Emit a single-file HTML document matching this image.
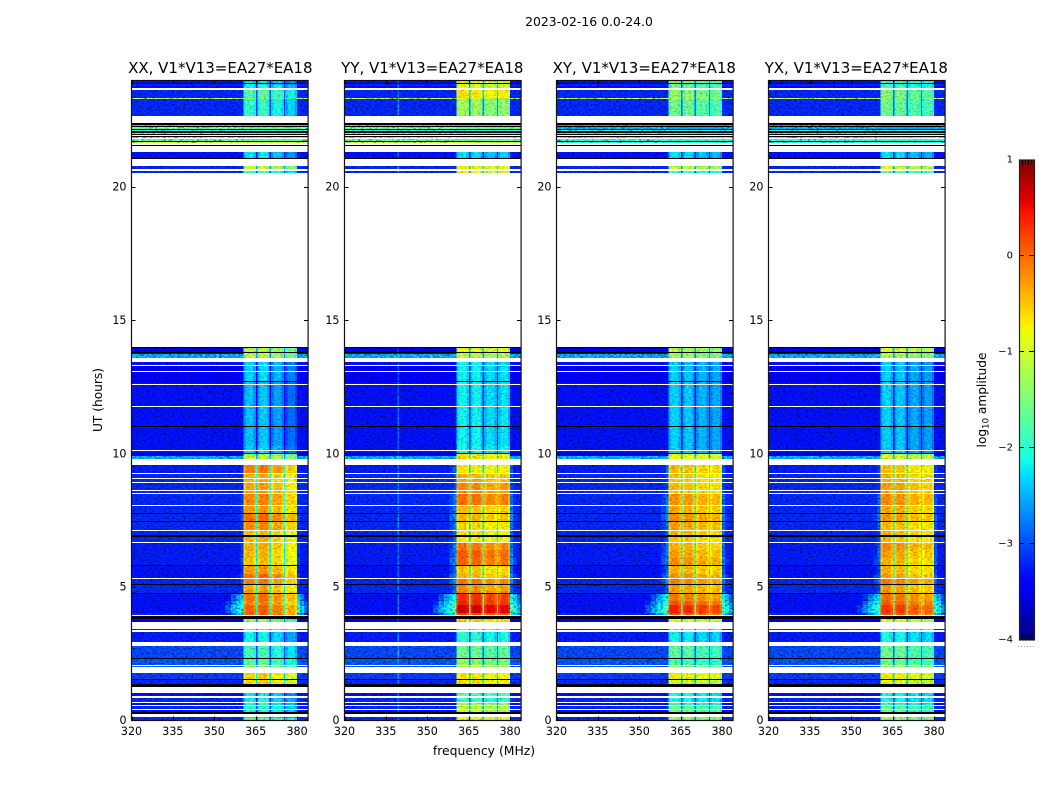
<!DOCTYPE html>
<html lang="en">
<head>
<meta charset="utf-8">
<title>2023-02-16 amplitude waterfall</title>
<style>
html,body{margin:0;padding:0;background:#fff;width:1050px;height:800px;overflow:hidden}
svg{display:block}
text{font-family:"DejaVu Sans","Liberation Sans",sans-serif;fill:#000}
</style>
</head>
<body>
<svg id="chart" xmlns="http://www.w3.org/2000/svg" width="1050" height="800" viewBox="0 0 1050 800">
  <defs>
    <filter id="mottle" filterUnits="userSpaceOnUse" x="100" y="60" width="880" height="680" color-interpolation-filters="sRGB">
      <feTurbulence type="fractalNoise" baseFrequency="0.36 0.62" numOctaves="2" seed="4" result="n"/>
      <feColorMatrix in="n" type="matrix" values="0.4 0 0 0 .3  0.4 0 0 0 .3  0.4 0 0 0 .3  0 0 0 0 1" result="g"/>
      <feComposite in="SourceGraphic" in2="g" operator="arithmetic" k1="2" k2="0" k3="0" k4="0" result="m"/>
      <feComposite in="m" in2="SourceAlpha" operator="in"/>
    </filter>
    <filter id="mottle-strong" filterUnits="userSpaceOnUse" x="100" y="60" width="880" height="680" color-interpolation-filters="sRGB">
      <feTurbulence type="fractalNoise" baseFrequency="0.36 0.62" numOctaves="2" seed="9" result="n"/>
      <feColorMatrix in="n" type="matrix" values="0.95 0 0 0 .03  0.95 0 0 0 .03  0.95 0 0 0 .03  0 0 0 0 1" result="g"/>
      <feComposite in="SourceGraphic" in2="g" operator="arithmetic" k1="2.05" k2="0" k3="0" k4="0" result="m"/>
      <feComposite in="m" in2="SourceAlpha" operator="in"/>
    </filter>
  </defs>
  <text x="589" y="26" font-size="12.4" text-anchor="middle">2023-02-16 0.0-24.0</text>
  <text x="484" y="755" font-size="12.4" text-anchor="middle">frequency (MHz)</text>
  <text transform="translate(102 400) rotate(-90)" font-size="12.2" text-anchor="middle">UT (hours)</text>
  <text transform="translate(986 400) rotate(-90)" font-size="12.2" text-anchor="middle">log<tspan font-size="8.5" dy="2.5">10</tspan><tspan dy="-2.5"> amplitude</tspan></text>
</svg>
<script>
const K = -9, F = null, N = -9;

const panelNames = ['XX', 'YY', 'XY', 'YX'];
const panelSuffix = ', V1*V13=EA27*EA18';
const freqTicks = [320, 335, 350, 365, 380];
const hourTicks = [0, 5, 10, 15, 20];
const colorbarTicks = [-4, -3, -2, -1, 0, 1];

const freqEdges = [320,339.2,339.8,345,350,352,354,356,358,359.5,360.6,361.4,364.3,365.1,365.6,366.4,369.3,370.1,370.6,371.4,374.4,375.2,375.7,376.5,379.2,380,381,382.5,384];
const subbandStart = [360.6, 365.6, 370.6, 375.7];
const subbandEnd = [365.1, 370.1, 375.2, 380];

const gainXX = [0.05, 0.1, -0.1, -0.35];
const gainYY = [0.05, 0.03, -0.1, -0.05];
const gainXY = [0.05, 0, -0.1, -0.15];
const gainYX = [0.05, 0, -0.15, -0.2];
const wingOffset = [-0.3, 0, -0.05, -0.15];
const rfiBoostYY = 0.4;

const rowStart = [
0,.10,.26,.31,.42,.60,.69,.91,1.25,1.375,
1.54,1.56,1.99,2.09,2.33,2.36,2.95,3.39,3.68,3.79,
3.94,4.05,4.35,4.5,4.75,4.78,4.87,5.09,5.12,5.34,
5.5,5.78,5.85,6.1,6.4,6.68,6.9,6.94,7.16,7.47,
7.5,7.77,7.8,8.1,8.53,8.66,8.93,9.08,9.27,9.79,
9.91,10,10.04,10.15,10.31,11.03,11.05,11.78,12.62,12.72,
12.75,13.1,13.35,13.6,13.73,13.77,13.8,13.97,20.55,20.7,
21.04,21.11,21.56,21.66,21.71,21.75,21.83,21.88,21.96,21.99,
22.05,22.13,22.16,22.2,22.24,22.28,22.35,22.66,23.29,23.33,
23.71,23.8,23.88,23.91];

const rowEnd = [
.08,.14,.31,.39,.55,.65,.84,1.02,1.375,1.54,
1.56,1.77,2.04,2.33,2.36,2.78,3.33,3.45,3.79,3.91,
4.05,4.35,4.5,4.75,4.78,4.84,5.09,5.12,5.30,5.5,
5.78,5.85,6.1,6.4,6.64,6.9,6.94,7.12,7.47,7.5,
7.77,7.8,8.06,8.5,8.61,8.89,9.04,9.24,9.6,9.91,
10,10.04,10.1,10.28,11.03,11.05,11.75,12.58,12.72,12.75,
13.06,13.31,13.46,13.73,13.77,13.8,13.97,14,20.6,20.8,
21.11,21.31,21.6,21.71,21.75,21.79,21.88,21.92,21.99,22.05,
22.09,22.16,22.2,22.24,22.28,22.35,22.39,23.29,23.33,23.66,
23.8,23.88,23.91,24];

const rowBackground = [
-3.2,-3.2,K,-3.3,-3.2,-3.3,-3.2,-3.3,K,-3.2,
K,-3.1,-3,-3,K,-3.05,-3.25,-3.2,-3.4,K,
-3.2,-3.3,-3.3,-3.3,K,-3.2,-3.2,K,-3.2,-3.3,
-3.3,K,-3.25,-3.25,-3.25,-3.2,K,-3.2,-3.2,K,
-3.2,K,-3.2,-3.2,-3.2,-3.2,-3.2,-3.2,-3.25,-2.6,
-3.4,K,-3.3,-3.3,-3.3,K,-3.3,-3.3,-3.3,K,
-3.4,-3.4,-3.3,-2.6,-3.4,K,-3.5,K,-3.2,-3.2,
K,-3.3,K,F,K,F,F,K,K,F,
K,F,K,F,K,F,K,-3.2,-1.2,-3.2,
-3.3,-3.2,K,-3.3];

const rowWing = [
N,N,N,N,N,N,N,N,N,N,
N,N,N,N,N,N,N,N,N,N,
-2,-1.6,-1.8,-2,N,-2.7,-2.8,N,-2.6,-2.6,
-2.8,N,-2.6,-2.7,-2.7,-2.8,N,-2.8,-2.7,N,
-2.6,N,-2.7,-2.7,-2.9,-2.9,-2.9,-2.9,-2.8,N,
N,N,N,N,N,N,N,N,N,N,
N,N,N,N,N,N,N,N,N,N,
N,N,N,N,N,N,N,N,N,N,
N,N,N,N,N,N,N,N,N,N,
N,N,N,N];

const bandXX = [
-1.7,-2.3,K,-2.1,-2.0,-2.1,-2.2,-2.3,K,-.6,
K,-.6,-1.4,-1.7,K,-1.9,-2.2,-1.8,-1.4,K,
0,0,-.2,-.1,K,-.25,-.4,K,-.15,-.05,
-.3,K,-.5,-.45,-.4,-.45,K,-.5,-.2,K,
-.05,K,-.3,-.2,-.3,-.35,-.45,-.4,-.15,-1.1,
-1.2,K,-2.4,-2.4,-2.5,K,-2.5,-2.5,-2.5,K,
-2.4,-2.4,-2.4,-1.2,-1.2,K,-1.2,K,-1.9,-1.1,
K,-2.3,K,-1,K,-1.8,-1.3,K,K,-1.5,
K,-2.1,K,-1.6,K,-2.3,K,-2.0,-1.5,-1.8,
-2.1,-2.2,K,-2.3];

const bandYY = [
-.75,-1,K,-1.1,-1.1,-1.3,-1.9,-1.7,K,-.6,
K,-.7,-1,-1.4,K,-1.6,-2,-1.6,-.5,K,
.2,.65,.35,.3,K,-.1,-.2,K,-.1,-.4,
-.5,K,0,.05,-.1,-.7,K,-.7,-.6,K,
-.4,K,-.45,-.05,-.2,-.2,-.35,-.4,-.7,-.6,
-.65,K,-2.2,-2.1,-2.2,K,-2.2,-2.2,-2.2,K,
-2.2,-2.2,-2.2,-1.1,-1,K,-.85,K,-.9,-.8,
K,-2.3,K,-1,K,-1.8,-1.2,K,K,-1.5,
K,-2.1,K,-1.6,K,-2.3,K,-1.3,-1,-.65,
-.9,-1,K,-.8];

const bandXY = [
-1.3,-1.6,K,-1.6,-1.6,-2,-2.1,-2.1,K,-1,
K,-.7,-1.3,-1.8,K,-1.7,-2.2,-1.8,-.9,K,
.1,.35,.1,-.1,K,-.25,-.3,K,-.15,-.2,
-.4,K,-.2,-.3,-.4,-.5,K,-.4,-.3,K,
-.2,K,-.35,-.25,-.5,-.45,-.5,-.5,-.45,-.8,
-.8,K,-2.4,-2.4,-2.4,K,-2.4,-2.4,-2.4,K,
-2.4,-2.4,-2.4,-1.3,-1.2,K,-1.2,K,-1.8,-1.1,
K,-2.3,K,-1.9,K,-2,-1.8,K,K,-2,
K,-2.1,K,-2.6,K,-2.6,K,-1.6,-1.2,-1.4,
-1.6,-1.7,K,-1.4];

const bandYX = [
-1.3,-1.6,K,-1.7,-1.6,-2,-2.1,-2.1,K,-.9,
K,-.7,-1.2,-1.6,K,-1.6,-2.1,-1.7,-1,K,
.1,.25,.05,-.05,K,-.2,-.3,K,-.1,-.3,
-.4,K,-.4,-.3,-.2,-.45,K,-.4,-.45,K,
-.25,K,-.35,-.2,-.35,-.3,-.4,-.4,-.5,-.95,
-.95,K,-2.4,-2.4,-2.4,K,-2.4,-2.4,-2.4,K,
-2.4,-2.4,-2.4,-1.2,-1.1,K,-1,K,-1.6,-1,
K,-2.3,K,-1.9,K,-2,-1.8,K,K,-2,
K,-2.1,K,-2.6,K,-2.6,K,-1.6,-1.3,-1.5,
-1.8,-1.9,K,-1.8];

const panelBands = [bandXX, bandYY, bandXY, bandYX];
const panelGains = [gainXX, gainYY, gainXY, gainYX];

const SVGNS = 'http://www.w3.org/2000/svg';
const svg = document.getElementById('chart');
const panelLeft = [131.5, 344.5, 556.5, 768.5];
const titleShift = [0.5, -0.5, -0.5, -0.5];
const panelWidth = 176.6;
const plotTop = 80.5, plotBottom = 720.5;
const FREQ_MIN = 320, FREQ_MAX = 384, HOUR_MIN = 0, HOUR_MAX = 24;

function xScale(f, p) { return panelLeft[p] + (f - FREQ_MIN) / (FREQ_MAX - FREQ_MIN) * panelWidth; }
function yScale(h) { return plotBottom - (h - HOUR_MIN) / (HOUR_MAX - HOUR_MIN) * (plotBottom - plotTop); }
function cbScale(v) { return 640 - (v + 4) / 5 * 480; }

function ramp(t, pts) {
  if (t <= pts[0][0]) return pts[0][1];
  for (let i = 1; i < pts.length; i++) {
    if (t <= pts[i][0]) {
      const a = pts[i - 1], b = pts[i];
      return a[1] + (b[1] - a[1]) * (t - a[0]) / (b[0] - a[0]);
    }
  }
  return pts[pts.length - 1][1];
}
function jet(level) {
  if (level <= -9) return '#000';
  const t = Math.max(0, Math.min(1, (level + 4) / 5));
  const r = ramp(t, [[0, 0], [0.35, 0], [0.66, 1], [0.89, 1], [1, 0.5]]);
  const g = ramp(t, [[0, 0], [0.125, 0], [0.375, 1], [0.64, 1], [0.91, 0], [1, 0]]);
  const b = ramp(t, [[0, 0.5], [0.11, 1], [0.34, 1], [0.65, 0], [1, 0]]);
  return 'rgb(' + Math.round(r * 255) + ',' + Math.round(g * 255) + ',' + Math.round(b * 255) + ')';
}

function cellLevel(p, r, f) {
  const band = panelBands[p][r];
  const bg = rowBackground[r];
  if (band <= -9) return -9;
  if (bg === null) return band;
  const wing = rowWing[r] > -9 ? rowWing[r] + wingOffset[p] : -9;
  if (f < subbandStart[0]) {
    const base = (p === 1 && f > 339.2 && f < 339.8) ? bg + rfiBoostYY : bg;
    return Math.max(base, wing - 0.18 * (subbandStart[0] - f));
  }
  if (f > subbandEnd[3]) return Math.max(bg, wing - 0.28 * (f - subbandEnd[3]));
  for (let s = 0; s < 4; s++) {
    if (f >= subbandStart[s] && f <= subbandEnd[s]) {
      const edge = Math.min(f - subbandStart[s], subbandEnd[s] - f) < 0.9 ? -0.22 : 0;
      return band + panelGains[p][s] + edge;
    }
  }
  return band * 0.6 - 1.9;
}

function addText(parent, txt, x, y, size, anchor) {
  const t = document.createElementNS(SVGNS, 'text');
  t.setAttribute('x', x);
  t.setAttribute('y', y);
  t.setAttribute('font-size', size);
  t.setAttribute('text-anchor', anchor);
  t.textContent = txt;
  parent.appendChild(t);
  return t;
}
function addLine(parent, x1, y1, x2, y2, color) {
  const l = document.createElementNS(SVGNS, 'line');
  l.setAttribute('x1', x1);
  l.setAttribute('y1', y1);
  l.setAttribute('x2', x2);
  l.setAttribute('y2', y2);
  l.setAttribute('stroke', color);
  l.setAttribute('stroke-width', '1');
  l.setAttribute('shape-rendering', 'crispEdges');
  parent.appendChild(l);
  return l;
}

panelNames.forEach(function (pol, p) {
  const panel = document.createElementNS(SVGNS, 'g');
  
  
  svg.appendChild(panel);

  const heatBg = document.createElementNS(SVGNS, 'g');
  
  
  heatBg.setAttribute('filter', 'url(#mottle-strong)');
  heatBg.setAttribute('shape-rendering', 'crispEdges');
  panel.appendChild(heatBg);

  const heat = document.createElementNS(SVGNS, 'g');
  
  
  heat.setAttribute('filter', 'url(#mottle)');
  heat.setAttribute('shape-rendering', 'crispEdges');
  panel.appendChild(heat);

  for (let r = 0; r < rowStart.length; r++) {
    const yTop = Math.round(yScale(rowEnd[r]));
    const yBot = Math.max(yTop + 1, Math.round(yScale(rowStart[r])));
    for (let c = 0; c < freqEdges.length - 1; c++) {
      const f0 = freqEdges[c], f1 = freqEdges[c + 1];
      const fMid = (f0 + f1) / 2;
      const inBand = fMid > subbandStart[0] && fMid < subbandEnd[3];
      const cell = document.createElementNS(SVGNS, 'rect');
      
      
      cell.setAttribute('x', xScale(f0, p).toFixed(2));
      cell.setAttribute('y', yTop);
      cell.setAttribute('width', (xScale(f1, p) - xScale(f0, p)).toFixed(2));
      cell.setAttribute('height', yBot - yTop);
      cell.setAttribute('fill', jet(cellLevel(p, r, fMid)));
      (inBand ? heat : heatBg).appendChild(cell);
    }
  }

  const frame = document.createElementNS(SVGNS, 'rect');
  
  
  frame.setAttribute('x', panelLeft[p]);
  frame.setAttribute('y', plotTop);
  frame.setAttribute('width', panelWidth);
  frame.setAttribute('height', plotBottom - plotTop);
  frame.setAttribute('fill', 'none');
  frame.setAttribute('stroke', '#111');
  frame.setAttribute('stroke-width', '1.2');
  panel.appendChild(frame);

  freqTicks.forEach(function (f) {
    const x = Math.round(xScale(f, p)) + 0.5;
    const b = addLine(panel, x, plotBottom, x, plotBottom - 4, '#000');
    
    
    const t = addLine(panel, x, plotTop, x, plotTop + 4, '#000');
    
    
    const lab = addText(panel, String(f), xScale(f, p), 735, 11.1, 'middle');
    
    
  });

  hourTicks.forEach(function (h) {
    const y = Math.round(yScale(h) - 0.5) + 0.5;
    const l = addLine(panel, panelLeft[p], y, panelLeft[p] + 4, y, '#000');
    
    
    const rt = addLine(panel, panelLeft[p] + panelWidth, y, panelLeft[p] + panelWidth - 4, y, '#000');
    
    
    const lab = addText(panel, String(h), panelLeft[p] - 5, yScale(h) + 3.5, 11.1, 'end');
    
    
  });

  const title = addText(panel, pol + panelSuffix, panelLeft[p] + panelWidth / 2 + titleShift[p], 73, 15, 'middle');
  
  
});

const cb = document.createElementNS(SVGNS, 'g');


svg.appendChild(cb);
for (let i = 0; i < 240; i++) {
  const strip = document.createElementNS(SVGNS, 'rect');
  
  
  strip.setAttribute('x', 1019);
  strip.setAttribute('y', 640 - (i + 1) * 2);
  strip.setAttribute('width', 15);
  strip.setAttribute('height', 2);
  strip.setAttribute('fill', jet(-4 + (i + 0.5) / 240 * 5));
  strip.setAttribute('shape-rendering', 'crispEdges');
  cb.appendChild(strip);
}
const cbFrame = document.createElementNS(SVGNS, 'rect');


cbFrame.setAttribute('x', 1019.5);
cbFrame.setAttribute('y', 160);
cbFrame.setAttribute('width', 15);
cbFrame.setAttribute('height', 480);
cbFrame.setAttribute('fill', 'none');
cbFrame.setAttribute('stroke', '#222');
cbFrame.setAttribute('stroke-width', '1.2');
cb.appendChild(cbFrame);

colorbarTicks.forEach(function (v) {
  const y = Math.round(cbScale(v)) - 0.5;
  if (v > -4 && v < 1) {
    const a = addLine(cb, 1020, y, 1024, y, '#000');
    
    
    const b = addLine(cb, 1029, y, 1034, y, '#000');
    
    
  }
  const label = addText(cb, String(v).replace('-', '\u2212'), 1013, cbScale(v) + 2.5, 10, 'end');
  
  
});
[1022, 1025, 1028, 1031].forEach(function (x) {
  const top = addLine(cb, x + 0.5, 160, x + 0.5, 165, '#000');
  
  
  const bot = addLine(cb, x + 0.5, 640, x + 0.5, 635, '#000');
  
  
});
[1018, 1021, 1024, 1027, 1030, 1033].forEach(function (x) {
  const dot = document.createElementNS(SVGNS, 'rect');
  
  
  dot.setAttribute('x', x);
  dot.setAttribute('y', 646);
  dot.setAttribute('width', 1);
  dot.setAttribute('height', 1);
  dot.setAttribute('fill', '#999');
  cb.appendChild(dot);
});
</script>
</body>
</html>
